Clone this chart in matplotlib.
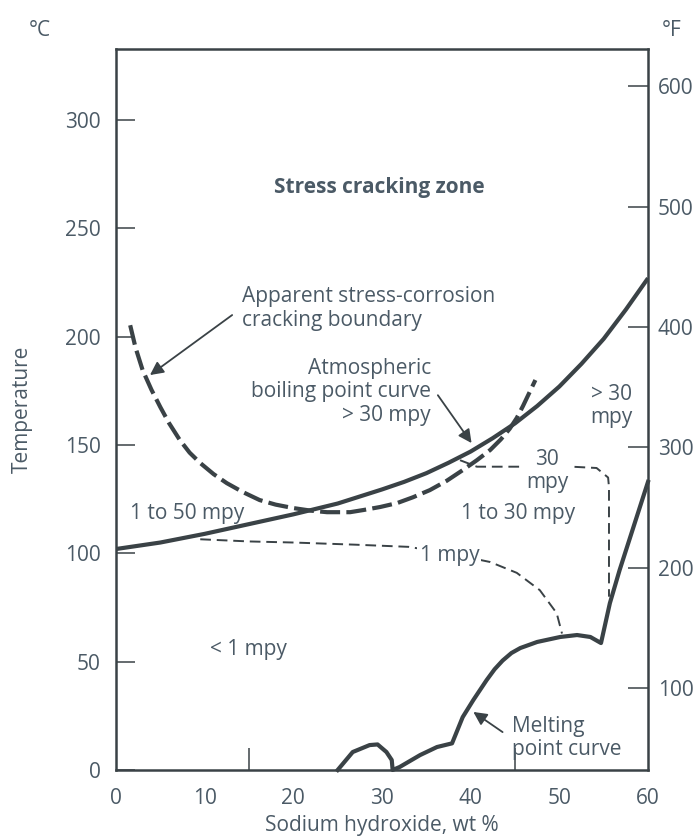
import matplotlib
matplotlib.use('Agg')
import matplotlib.pyplot as plt

plt.rcParams['font.family'] = ['Open Sans', 'DejaVu Sans']

# ---------------- data ----------------
# Atmospheric boiling point curve (wt % NaOH, deg C)
boil_x = [0, 5, 10, 15, 20, 25, 30, 32.5, 35, 37.5, 40, 42.5, 45, 47.5, 50, 52.5, 55, 57.5, 60]
boil_y = [102, 105, 109, 113.5, 118, 123, 129.5, 133, 137, 141.8, 147, 153.2, 160, 168, 177,
          187.5, 199, 212.5, 227]

# Apparent stress-corrosion cracking boundary
scc_x = [1.6, 2.2, 3.0, 4.0, 5.0, 6.0, 7.2, 8.3, 9.5, 11.0, 12.5, 14.3, 16.2, 18, 20, 22, 23.8,
         26.4, 27.9, 29.8, 31.7, 33.5, 35.4, 37.3, 39.1, 40.7, 42.2, 43.4, 44.4, 45.2, 45.9, 46.6, 47.3]
scc_y = [205.3, 195, 184.6, 175.5, 167.5, 160, 152.3, 146.5, 141.7, 136.6, 132.4, 128.3, 124.6,
         122.5, 120.9, 119.7, 119, 119, 120, 121.4, 123.2, 125.9, 129.2, 133.5, 138.4, 143, 147.7,
         152.6, 157.5, 162.5, 168, 174, 180]

# 1 mpy iso-corrosion line
one_x = [9.5, 15, 20, 27, 33, 37.5, 42.2, 45.2, 47.8, 49.7, 50.3]
one_y = [106.5, 105.5, 105, 104, 103, 100, 96, 91, 83, 72.4, 63]

# 30 mpy iso-corrosion line
thirty_x = [38.8, 40.7, 45.9, 51.4, 54.2, 55.5, 55.6, 55.6]
thirty_y = [143, 140, 140, 140, 139.4, 135, 130.6, 80]

# Melting point curve
melt_x = [25.0, 26.7, 28.6, 29.5, 30.5, 31.1, 31.2, 32, 34.3, 36.2, 37.9, 39.1, 40.3, 41.8,
          42.7, 43.6, 44.6, 45.6, 47.5, 50.1, 52, 53.5, 54.7, 55.7, 56.8, 60]
melt_y = [0, 8.3, 11.5, 11.8, 8.3, 4.6, 0, 1.4, 6.9, 10.6, 12.3, 24.4, 32.3, 41.5,
          46.5, 50.5, 54, 56.3, 59.1, 61.4, 62.3, 61.4, 58.6, 77, 92.3, 133]

x_ticks = [0, 10, 20, 30, 40, 50, 60]
x_minor = [15, 30, 45]
c_ticks = [0, 50, 100, 150, 200, 250, 300]
f_ticks = [100, 200, 300, 400, 500, 600]

TXT = '#4b5a66'
LN = '#3a4246'
FS = 15
LS = 1.15

fig = plt.figure(figsize=(6.99, 8.38), dpi=100)
ax = fig.add_axes([116 / 699, 68 / 838, 532 / 699, 721 / 838])
ax.set_xlim(0, 60)
ax.set_ylim(0, 332.8)

for s in ax.spines.values():
    s.set_linewidth(1.8)
    s.set_color(LN)

ax.set_xticks(x_ticks)
ax.set_xticks(x_minor, minor=True)
ax.set_yticks(c_ticks)
ax.tick_params(axis='x', which='major', length=0, pad=13, labelsize=FS, labelcolor=TXT)
ax.tick_params(axis='x', which='minor', direction='in', length=16, width=1.1, color=LN)
ax.tick_params(axis='y', which='major', direction='in', length=14, width=1.1, color=LN,
               pad=11, labelsize=FS, labelcolor=TXT)

ax2 = ax.twinx()
ax2.set_ylim(0 * 9 / 5 + 32, 332.8 * 9 / 5 + 32)
ax2.set_yticks(f_ticks)
ax2.tick_params(axis='y', direction='in', length=14.5, width=1.1, color=LN, pad=7,
                labelsize=FS, labelcolor=TXT)
for s in ax2.spines.values():
    s.set_visible(False)

ax.set_xlabel('Sodium hydroxide, wt %', fontsize=FS, color=TXT, labelpad=4)
ax.set_ylabel('Temperature', fontsize=FS, color=TXT, labelpad=23)
fig.text(40 / 699, 1 - 30 / 838, '°C', fontsize=FS, color=TXT, ha='center', va='center')
fig.text(672 / 699, 1 - 30 / 838, '°F', fontsize=FS, color=TXT, ha='center', va='center')

# curves
ax.plot(boil_x, boil_y, color=LN, lw=3.0, solid_capstyle='butt', solid_joinstyle='round', zorder=3)
ax.plot(scc_x, scc_y, color=LN, lw=3.0, dashes=(4.8, 1.5), zorder=3)
ax.plot(one_x, one_y, color=LN, lw=1.4, dashes=(5.5, 3.0), zorder=2)
ax.plot(thirty_x, thirty_y, color=LN, lw=1.4, dashes=(5.5, 3.0), zorder=2)
ax.plot(melt_x, melt_y, color=LN, lw=3.0, solid_joinstyle='round', zorder=3, clip_on=False)

# labels
wb = dict(facecolor='white', edgecolor='none', pad=1.5)
ax.text(29.7, 269, 'Stress cracking zone', fontsize=FS, fontweight='bold', color=TXT,
        ha='center', va='center')
ax.text(14.2, 213, 'Apparent stress-corrosion\ncracking boundary', fontsize=FS, color=TXT,
        ha='left', va='center', linespacing=LS)
ax.text(35.5, 174.5, 'Atmospheric\nboiling point curve\n> 30 mpy', fontsize=FS, color=TXT,
        ha='right', va='center', linespacing=LS)
ax.text(55.9, 168, '> 30\nmpy', fontsize=FS, color=TXT, ha='center', va='center', linespacing=LS)
ax.text(48.6, 138, '30\nmpy', fontsize=FS, color=TXT, ha='center', va='center',
        linespacing=LS, bbox=wb, zorder=4)
ax.text(45.4, 118.6, '1 to 30 mpy', fontsize=FS, color=TXT, ha='center', va='center')
ax.text(8.0, 118.6, '1 to 50 mpy', fontsize=FS, color=TXT, ha='center', va='center')
ax.text(37.6, 99.2, '1 mpy', fontsize=FS, color=TXT, ha='center', va='center', bbox=wb, zorder=4)
ax.text(14.9, 55.4, '< 1 mpy', fontsize=FS, color=TXT, ha='center', va='center')
ax.text(44.7, 14.8, 'Melting\npoint curve', fontsize=FS, color=TXT, ha='left', va='center',
        linespacing=LS)

ap = dict(arrowstyle='-|>', color=LN, lw=1.3, mutation_scale=20, shrinkA=0, shrinkB=0)
ax.annotate('', xy=(3.83, 182.3), xytext=(13.1, 210), arrowprops=ap)
ax.annotate('', xy=(40.1, 150.9), xytext=(36.3, 173), arrowprops=ap)
ax.annotate('', xy=(40.3, 26.8), xytext=(43.6, 17.5), arrowprops=ap)

fig.savefig('out.png', dpi=100)
